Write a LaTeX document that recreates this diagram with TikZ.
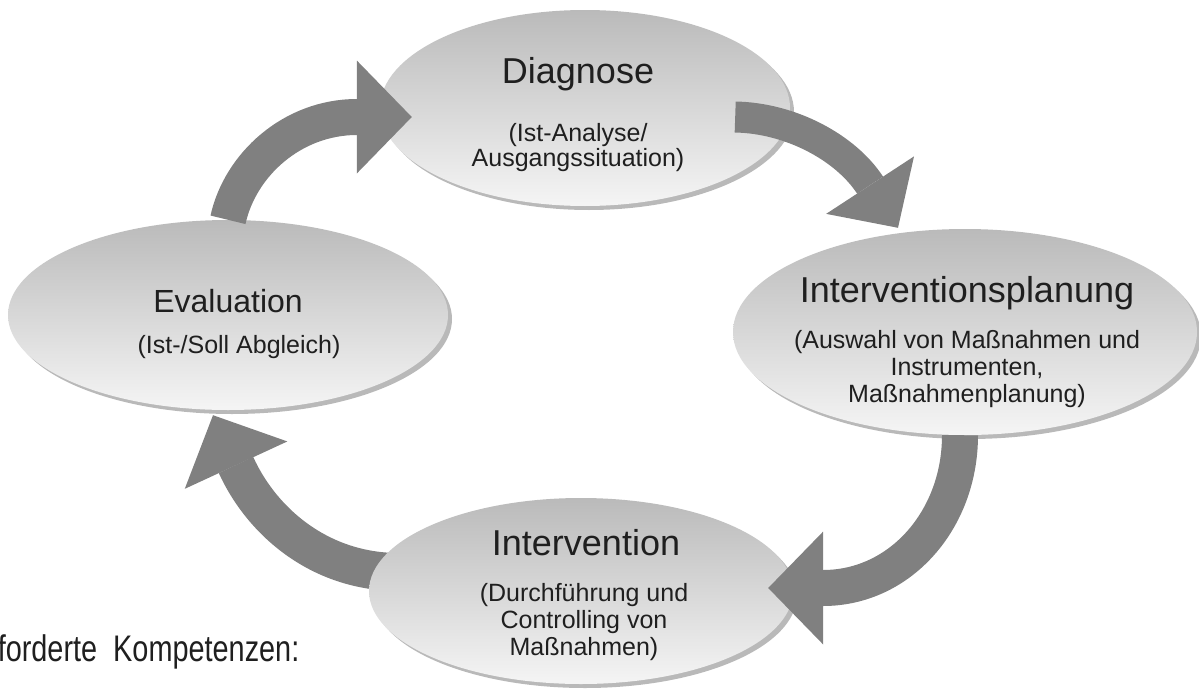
\documentclass[tikz,border=0pt]{standalone}
\usepackage{fontspec}
\setmainfont{Liberation Sans}
\usetikzlibrary{arrows.meta,shapes.geometric,shadows}
\pgfdeclarelayer{back}
\pgfsetlayers{back,main}

\tikzset{
  phase/.style={ellipse, inner sep=0pt, top color=black!27, bottom color=black!4,
    drop shadow={shadow xshift=4pt, shadow yshift=-4pt, opacity=.55}},
  title/.style={font=\fontsize{36}{40}\selectfont, text=black!88, anchor=base},
  sub/.style={font=\fontsize{25}{27}\selectfont, text=black!88, align=center, anchor=base},
  flow/.style={draw=black!50, line width=36pt,
    -{Triangle[width=113pt,length=55pt,line width=0pt]}},
}

\begin{document}
\begin{tikzpicture}[x=1pt,y=-1pt]
\useasboundingbox (0,0) rectangle (1199,688);
\clip (0,0) rectangle (1199,688);

% phases of the cycle
\node[phase, minimum width=410pt, minimum height=196pt] (diag) at (585,108) {};
\node[phase, minimum width=440pt, minimum height=190pt] (eval) at (228,315) {};
\node[phase, minimum width=464pt, minimum height=206pt] (ipl) at (965,332) {};
\node[phase, minimum width=424pt, minimum height=186pt] (intv) at (581,591) {};

% labels (base of a multi-line label = its last line)
\node[title] (diagT) at (578,83) {Diagnose};
\node[sub, font=\fontsize{25}{20}\selectfont] (diagS) at (578,166) {(Ist-Analyse/\\Ausgangssituation)};

\node[title, font=\fontsize{32}{36}\selectfont] (evalT) at (228,312) {Evaluation};
\node[sub] (evalS) at (239,353) {(Ist-/Soll Abgleich)};

\node[title] (iplT) at (967,302) {Interventionsplanung};
\node[sub] (iplS) at (967,402) {(Auswahl von Maßnahmen und\\Instrumenten,\\Maßnahmenplanung)};

\node[title] (intvT) at (586,555) {Intervention};
\node[sub] (intvS) at (584,655) {(Durchführung und\\Controlling von\\Maßnahmen)};

\node[anchor=base west, font=\fontsize{37}{40}\selectfont, xscale=.78, text=black!88]
  (komp) at (-5,661) {forderte\ \ Kompetenzen:};

% arrow tips and loose ends
\coordinate (t1) at ([shift={(32,9)}]diag.west);
\coordinate (s2) at ([shift={(-55,9)}]diag.east);
\coordinate (t2) at ([shift={(-67,-1)}]ipl.north);
\coordinate (t3) at ([shift={(-25,-3)}]intv.east);
\coordinate (s4) at ([shift={(30,-19)}]intv.west);
\coordinate (t4) at ([shift={(-15,5)}]eval.south);

\draw[flow] (eval.north) .. controls (240,165) and (292,117) .. (357,117) -- (t1);
\draw[flow, line width=31pt, -{Triangle[width=105pt,length=51pt,line width=0pt]}]
  (s2) .. controls (790,118) and (845,147) .. (870,185) -- (t2);
\draw[flow] ([xshift=-5pt]ipl.south) .. controls (960,520) and (900,588) .. (823,588) -- (t3);
\begin{pgfonlayer}{back}
\draw[flow, line width=38pt] (s4) .. controls (320,572) and (262,522) .. (236,465) -- (t4);
\end{pgfonlayer}

\end{tikzpicture}
\end{document}
